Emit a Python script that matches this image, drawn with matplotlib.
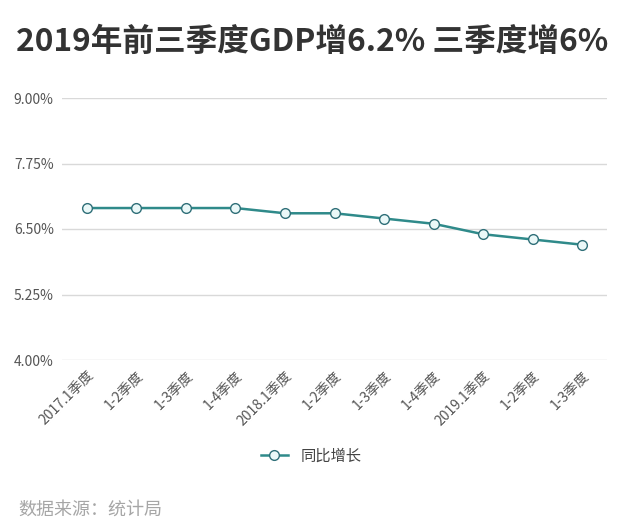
import matplotlib
matplotlib.use("Agg")
import matplotlib.pyplot as plt

plt.rcParams["font.family"] = ["Noto Sans CJK SC", "DejaVu Sans"]

quarters = ["2017.1季度", "1-2季度", "1-3季度", "1-4季度",
            "2018.1季度", "1-2季度", "1-3季度", "1-4季度",
            "2019.1季度", "1-2季度", "1-3季度"]
growth = [6.9, 6.9, 6.9, 6.9, 6.8, 6.8, 6.7, 6.6, 6.4, 6.3, 6.2]
yticks = [4.00, 5.25, 6.50, 7.75, 9.00]

fig = plt.figure(figsize=(6.4, 5.31), dpi=100)
ax = fig.add_axes([62 / 640, 1 - 360 / 531, 545 / 640, 262 / 531])

x = range(len(quarters))
ax.plot(x, growth, color="#2f8a8a", linewidth=1.8, marker="o",
        markersize=7, markerfacecolor="#eaf8f8", markeredgecolor="#2f6f78",
        markeredgewidth=1.0, label="同比增长", zorder=3)

ax.set_xlim(-0.5, len(quarters) - 0.5)
ax.set_ylim(4.0, 9.0)
ax.set_yticks(yticks)
ax.set_yticklabels([f"{v:.2f}%" for v in yticks])
ax.set_xticks(list(x))
ax.set_xticklabels(quarters, rotation=45, ha="right", rotation_mode="anchor")
ax.tick_params(axis="both", length=0, labelsize=10, colors="#555555")
ax.tick_params(axis="x", pad=6)
ax.tick_params(axis="y", pad=6)
ax.grid(axis="y", color="#d9d9d9", linewidth=1)
for s in ax.spines.values():
    s.set_visible(False)

fig.text(312 / 640, 1 - 42 / 531, "2019年前三季度GDP增6.2% 三季度增6%",
         ha="center", va="center", fontsize=22.8, fontweight="bold", color="#333333")

fig.legend(loc="center", bbox_to_anchor=(311 / 640, 1 - 456 / 531), frameon=False,
           fontsize=11, labelcolor="#444444", handlelength=1.8)

fig.text(18 / 640, 1 - 510 / 531, "数据来源：统计局", ha="left", va="center",
         fontsize=13, color="#a6a6a6")

fig.savefig("out.png", dpi=100)
